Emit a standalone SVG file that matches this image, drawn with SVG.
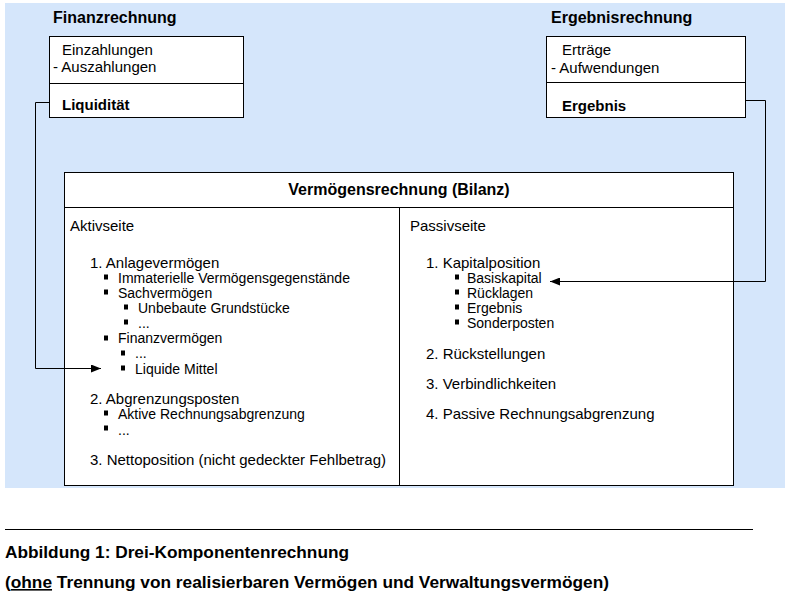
<svg xmlns="http://www.w3.org/2000/svg" width="790" height="597" viewBox="0 0 790 597">
<style>
text{font-family:"Liberation Sans",Arial,sans-serif;font-size:15px;fill:#000}
.b{font-weight:bold}
.t{font-weight:bold;font-size:16px}
.s{font-size:14px}
.box{fill:#fff;stroke:#000;stroke-width:1}
.ln{stroke:#000;stroke-width:1;fill:none}
.cap{font-weight:bold;font-size:16px}
</style>
<defs>
<marker id="ah" markerWidth="10" markerHeight="8" refX="10" refY="4" orient="auto" markerUnits="userSpaceOnUse"><path d="M0,0L10,4L0,8z" fill="#000"/></marker>
<g id="sq"><rect x="-2" y="-2.5" width="4" height="5" fill="#000"/></g>
</defs>
<rect x="5" y="3" width="780" height="485" fill="#d5e6fb"/>
<g id="finanz">
<text x="53" y="23" class="t">Finanzrechnung</text>
<rect class="box" x="49.5" y="36.5" width="194" height="81"/>
<line class="ln" x1="49.5" y1="83.5" x2="243.5" y2="83.5"/>
<text x="62" y="55">Einzahlungen</text>
<text x="53" y="72">- Auszahlungen</text>
<text x="62" y="110" class="b">Liquidität</text>
</g>
<g id="ergebnis">
<text x="551" y="23" class="t">Ergebnisrechnung</text>
<rect class="box" x="546.5" y="36.5" width="199" height="81"/>
<line class="ln" x1="546.5" y1="82.5" x2="745.5" y2="82.5"/>
<text x="562" y="55">Erträge</text>
<text x="551" y="73">- Aufwendungen</text>
<text x="562" y="111" class="b">Ergebnis</text>
</g>
<g id="bilanz">
<rect class="box" x="64.5" y="172.5" width="669" height="313"/>
<line class="ln" x1="64.5" y1="207.5" x2="733.5" y2="207.5"/>
<line class="ln" x1="399.5" y1="207.5" x2="399.5" y2="485.5"/>
<text x="399" y="195" class="t" text-anchor="middle">Vermögensrechnung (Bilanz)</text>
<text x="70" y="231">Aktivseite</text>
<text x="90" y="268">1. Anlagevermögen</text>
<use href="#sq" x="106" y="277"/><text class="s" x="118" y="283">Immaterielle Vermögensgegenstände</text>
<use href="#sq" x="106" y="292"/><text class="s" x="118" y="298">Sachvermögen</text>
<use href="#sq" x="126" y="307"/><text class="s" x="138" y="313">Unbebaute Grundstücke</text>
<use href="#sq" x="126" y="322"/><text class="s" x="138" y="328">...</text>
<use href="#sq" x="106" y="338"/><text class="s" x="118" y="343">Finanzvermögen</text>
<use href="#sq" x="123" y="353"/><text class="s" x="135" y="358">...</text>
<use href="#sq" x="123" y="368"/><text class="s" x="135" y="374">Liquide Mittel</text>
<text x="90" y="404">2. Abgrenzungsposten</text>
<use href="#sq" x="106" y="413"/><text class="s" x="118" y="419">Aktive Rechnungsabgrenzung</text>
<use href="#sq" x="106" y="428"/><text class="s" x="118" y="435">...</text>
<text x="90" y="465">3. Nettoposition (nicht gedeckter Fehlbetrag)</text>
<text x="410" y="231">Passivseite</text>
<text x="426" y="268">1. Kapitalposition</text>
<use href="#sq" x="457" y="277"/><text class="s" x="467" y="283">Basiskapital</text>
<use href="#sq" x="457" y="292"/><text class="s" x="467" y="298">Rücklagen</text>
<use href="#sq" x="457" y="307"/><text class="s" x="467" y="313">Ergebnis</text>
<use href="#sq" x="457" y="322"/><text class="s" x="467" y="328">Sonderposten</text>
<text x="426" y="359">2. Rückstellungen</text>
<text x="426" y="389">3. Verbindlichkeiten</text>
<text x="426" y="419">4. Passive Rechnungsabgrenzung</text>
</g>
<g id="connectors">
<polyline class="ln" points="49.5,102.5 35.5,102.5 35.5,368.5 101,368.5" marker-end="url(#ah)"/>
<polyline class="ln" points="745.5,100.5 765.5,100.5 765.5,281.5 550,281.5" marker-end="url(#ah)"/>
</g>
<line x1="5" y1="529.5" x2="753" y2="529.5" stroke="#000" stroke-width="1"/>
<text x="5" y="558" class="cap" textLength="344" lengthAdjust="spacingAndGlyphs">Abbildung 1: Drei-Komponentenrechnung</text>
<text x="5" y="588" class="cap" textLength="604" lengthAdjust="spacingAndGlyphs">(<tspan text-decoration="underline">ohne</tspan> Trennung von realisierbaren Vermögen und Verwaltungsvermögen)</text>
</svg>
